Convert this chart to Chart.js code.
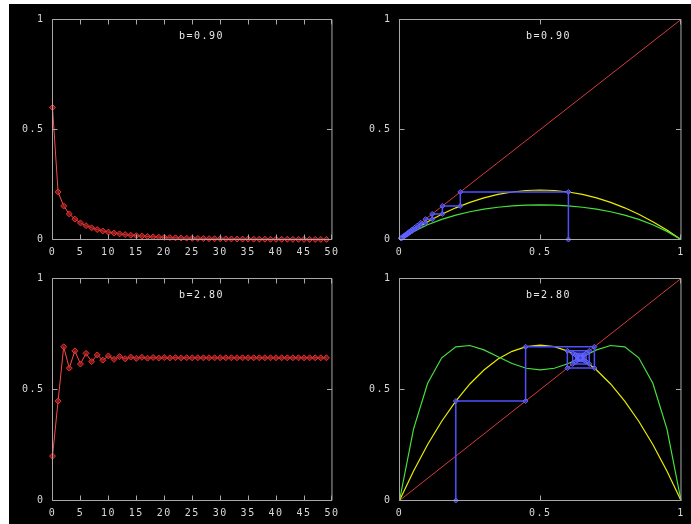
<!DOCTYPE html>
<html>
<head>
<meta charset="utf-8">
<script src="https://cdn.jsdelivr.net/npm/chart.js@4/dist/chart.umd.min.js"></script>
<style>
  html, body { margin: 0; padding: 0; background: #fff; width: 691px; height: 524px; overflow: hidden; }
  #back { position: absolute; left: 9px; top: 4px; width: 682px; height: 520px; background: #000; }
  canvas { position: absolute; }
</style>
</head>
<body>
<div id="back"></div>
<canvas id="tl"></canvas>
<canvas id="tr"></canvas>
<canvas id="bl"></canvas>
<canvas id="br"></canvas>
<script>
// iterates x(n) of the logistic map, n = 0..49
const iterB090 = [0.6, 0.216, 0.15241, 0.116263, 0.092472, 0.075529, 0.062842, 0.053004, 0.045175, 0.038821,
  0.033582, 0.029209, 0.02552, 0.022382, 0.019693, 0.017375, 0.015366, 0.013617, 0.012089, 0.010749,
  0.00957, 0.008531, 0.007612, 0.006799, 0.006077, 0.005436, 0.004866, 0.004358, 0.003905, 0.003501,
  0.00314, 0.002817, 0.002528, 0.00227, 0.002038, 0.001831, 0.001645, 0.001478, 0.001328, 0.001194,
  0.001073, 0.000965, 0.000868, 0.00078, 0.000702, 0.000631, 0.000568, 0.000511, 0.00046, 0.000414];
const iterB280 = [0.2, 0.448, 0.692429, 0.596319, 0.674024, 0.615204, 0.662838, 0.625755, 0.655721, 0.632103,
  0.651137, 0.636042, 0.64818, 0.63852, 0.646271, 0.640091, 0.64505, 0.641088, 0.64426, 0.641729,
  0.643756, 0.642138, 0.643432, 0.642397, 0.643225, 0.642563, 0.643093, 0.642669, 0.643008, 0.642736,
  0.642954, 0.64278, 0.642919, 0.642807, 0.642897, 0.642825, 0.642883, 0.642836, 0.642874, 0.642844,
  0.642868, 0.642848, 0.642864, 0.642851, 0.642861, 0.642853, 0.64286, 0.642854, 0.642859, 0.642855];

// curves on the right panels
const curveX = [0, 0.05, 0.1, 0.15, 0.2, 0.25, 0.3, 0.35, 0.4, 0.45, 0.5,
  0.55, 0.6, 0.65, 0.7, 0.75, 0.8, 0.85, 0.9, 0.95, 1];
const mapB090 = [0, 0.04275, 0.081, 0.11475, 0.144, 0.16875, 0.189, 0.20475, 0.216, 0.22275, 0.225,
  0.22275, 0.216, 0.20475, 0.189, 0.16875, 0.144, 0.11475, 0.081, 0.04275, 0];
const map2B090 = [0, 0.03683, 0.066995, 0.091424, 0.110938, 0.126246, 0.137951, 0.146544, 0.15241, 0.155819, 0.156938,
  0.155819, 0.15241, 0.146544, 0.137951, 0.126246, 0.110938, 0.091424, 0.066995, 0.03683, 0];
const mapB280 = [0, 0.133, 0.252, 0.357, 0.448, 0.525, 0.588, 0.637, 0.672, 0.693, 0.7,
  0.693, 0.672, 0.637, 0.588, 0.525, 0.448, 0.357, 0.252, 0.133, 0];
const map2B280 = [0, 0.322871, 0.527789, 0.642743, 0.692429, 0.69825, 0.678317, 0.647447, 0.617165, 0.595703, 0.588,
  0.595703, 0.617165, 0.647447, 0.678317, 0.69825, 0.692429, 0.642743, 0.527789, 0.322871, 0];
const diagX = [0, 1];
const diagY = [0, 1];

const titles = ['b=0.90', 'b=2.80'];
const stepTicks = [5, 0.5];
const cobwebSteps = 26;

const FONT = { family: "'DejaVu Sans Mono', monospace", size: 10 };
const TEXT = '#d8d8d8';
const FRAME = '#a8a8a8';

function pts(xs, ys) {
  return xs.map((x, i) => ({ x: x, y: ys[i] }));
}

function cobweb(it, n) {
  const out = [{ x: it[0], y: 0 }];
  for (let i = 0; i < n - 1; i++) {
    out.push({ x: it[i], y: it[i + 1] });
    out.push({ x: it[i + 1], y: it[i + 1] });
  }
  return out;
}

const framePlugin = {
  id: 'frame',
  beforeDraw(chart) {
    chart.ctx.letterSpacing = '1.5px';
  },
  afterDatasetsDraw(chart, args, opts) {
    const ctx = chart.ctx;
    const a = chart.chartArea;
    const xs = chart.scales.x;
    const ys = chart.scales.y;
    ctx.save();
    ctx.strokeStyle = FRAME;
    ctx.lineWidth = 1;
    ctx.beginPath();
    ctx.rect(a.left, a.top, a.right - a.left, a.bottom - a.top);
    xs.ticks.forEach((t, i) => {
      const px = Math.round(xs.getPixelForTick(i) - 0.5) + 0.5;
      ctx.moveTo(px, a.bottom); ctx.lineTo(px, a.bottom - 5);
      ctx.moveTo(px, a.top); ctx.lineTo(px, a.top + 5);
    });
    ys.ticks.forEach((t, i) => {
      const py = Math.round(ys.getPixelForTick(i) - 0.5) + 0.5;
      ctx.moveTo(a.left, py); ctx.lineTo(a.left + 5, py);
      ctx.moveTo(a.right, py); ctx.lineTo(a.right - 5, py);
    });
    ctx.stroke();
    ctx.fillStyle = '#e8e8e8';
    ctx.font = "10px 'DejaVu Sans Mono', monospace";
    ctx.textAlign = 'center';
    ctx.textBaseline = 'middle';
    ctx.fillText(opts.text, a.left + 149, a.top + 17);
    ctx.restore();
  }
};

function panel(id, canvasBox, plot, datasets, xMax, xStep, title) {
  const c = document.getElementById(id);
  c.width = canvasBox.w;
  c.height = canvasBox.h;
  c.style.left = canvasBox.x + 'px';
  c.style.top = canvasBox.y + 'px';
  const yWidth = plot.l - canvasBox.x;
  const xHeight = canvasBox.y + canvasBox.h - plot.b;
  return new Chart(c, {
    type: 'scatter',
    data: { datasets: datasets },
    options: {
      responsive: false,
      animation: false,
      events: [],
      layout: {
        padding: { top: plot.t - canvasBox.y, right: canvasBox.x + canvasBox.w - plot.r, left: 0, bottom: 0 }
      },
      plugins: { legend: { display: false }, tooltip: { enabled: false }, frame: { text: title } },
      scales: {
        x: {
          type: 'linear', min: 0, max: xMax,
          grid: { display: false, drawTicks: false }, border: { display: false },
          ticks: { stepSize: xStep, color: TEXT, font: FONT, padding: 7, maxRotation: 0, autoSkip: false,
            callback: (v) => String(v) },
          afterFit(s) { s.height = xHeight; }
        },
        y: {
          type: 'linear', min: 0, max: 1,
          grid: { display: false, drawTicks: false }, border: { display: false },
          ticks: { stepSize: 0.5, color: TEXT, font: FONT, padding: 8, callback: (v) => String(v) },
          afterFit(s) { s.width = yWidth; }
        }
      }
    },
    plugins: [framePlugin]
  });
}

function timeSeries(it) {
  return [{
    data: it.map((v, i) => ({ x: i, y: v })),
    showLine: true,
    borderColor: 'rgb(255,72,72)',
    borderWidth: 1,
    pointStyle: 'rectRot',
    pointRadius: 3,
    pointBorderWidth: 1,
    pointBorderColor: 'rgb(230,50,50)',
    pointBackgroundColor: 'rgba(170,30,30,0.7)',
    clip: 6
  }];
}

function mapSeries(fy, f2y, it) {
  return [
    {
      data: cobweb(it, cobwebSteps), showLine: true,
      borderColor: 'rgb(80,80,255)', borderWidth: 1.5,
      pointStyle: 'rectRot', pointRadius: 2.5, pointBorderWidth: 1,
      pointBorderColor: 'rgb(100,100,255)', pointBackgroundColor: 'rgba(70,70,220,0.6)',
      clip: 6
    },
    { data: pts(curveX, f2y), showLine: true, borderColor: 'rgb(70,225,60)', borderWidth: 1.2, pointRadius: 0, clip: 6 },
    { data: pts(curveX, fy), showLine: true, borderColor: 'rgb(235,235,0)', borderWidth: 1.2, pointRadius: 0, clip: 6 },
    { data: pts(diagX, diagY), showLine: true, borderColor: 'rgb(215,60,60)', borderWidth: 1, pointRadius: 0, clip: 6 }
  ];
}

panel('tl', { x: 9, y: 4, w: 336, h: 258 }, { l: 52.5, t: 19.5, r: 334.5, b: 239.5 },
  timeSeries(iterB090), 50, stepTicks[0], titles[0]);
panel('tr', { x: 345, y: 4, w: 346, h: 258 }, { l: 399.5, t: 19.5, r: 681.5, b: 239.5 },
  mapSeries(mapB090, map2B090, iterB090), 1, stepTicks[1], titles[0]);
panel('bl', { x: 9, y: 262, w: 336, h: 262 }, { l: 52.5, t: 278.5, r: 334.5, b: 500.5 },
  timeSeries(iterB280), 50, stepTicks[0], titles[1]);
panel('br', { x: 345, y: 262, w: 346, h: 262 }, { l: 399.5, t: 278.5, r: 681.5, b: 500.5 },
  mapSeries(mapB280, map2B280, iterB280), 1, stepTicks[1], titles[1]);
</script>
</body>
</html>
